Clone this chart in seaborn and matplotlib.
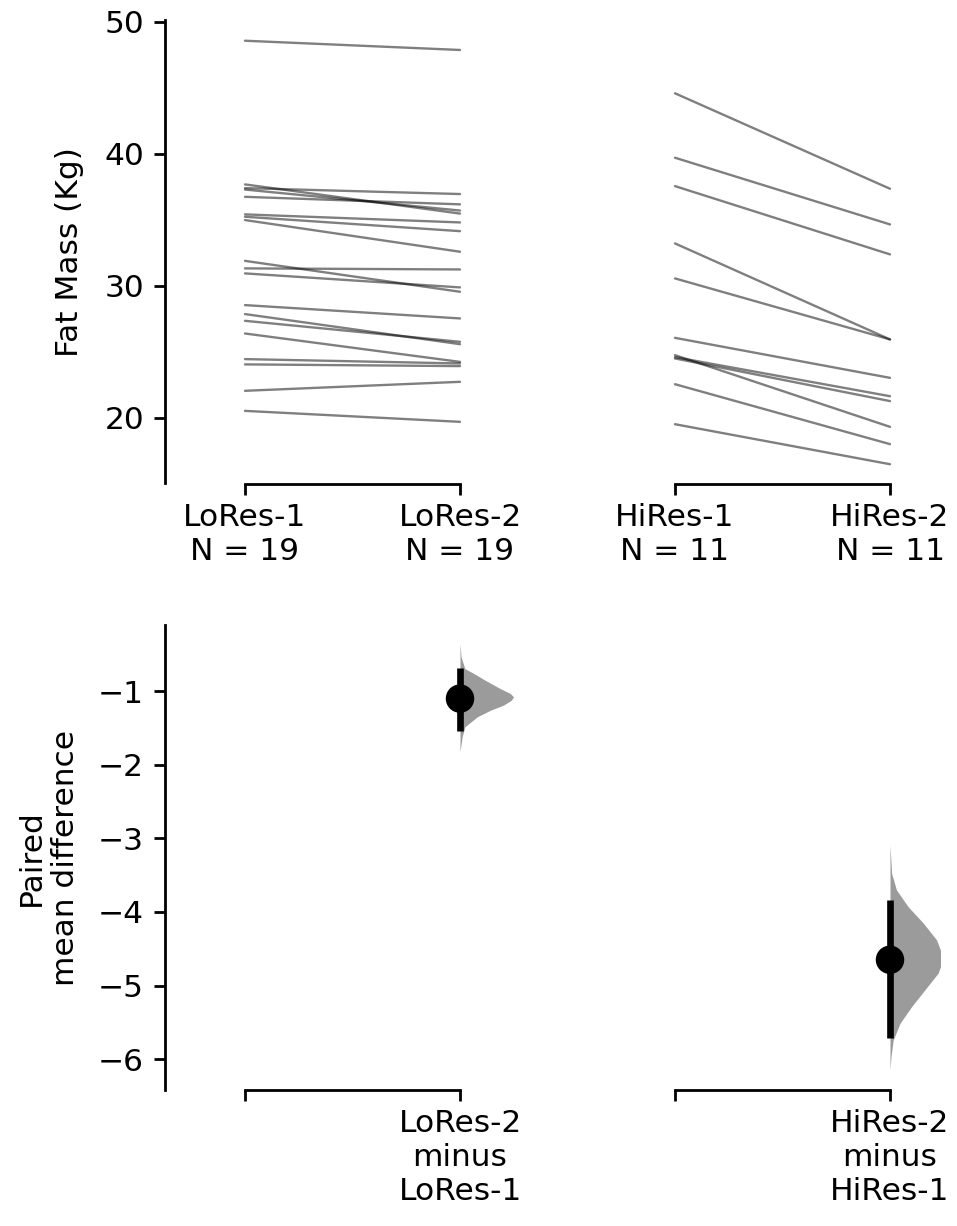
import numpy as np
import pandas as pd
import matplotlib
matplotlib.use("Agg")
import matplotlib.pyplot as plt
import seaborn as sns

# ---------------- data ----------------
lores_1 = [48.56, 37.68, 37.40, 37.29, 36.74, 35.41, 35.23, 34.98, 31.89, 31.32,
           30.94, 28.54, 27.86, 27.35, 26.39, 24.45, 24.05, 22.05, 20.53]
lores_2 = [47.86, 35.47, 36.95, 35.70, 36.17, 34.80, 34.14, 32.58, 29.55, 31.24,
           29.88, 27.53, 25.58, 25.76, 24.24, 24.12, 23.92, 22.73, 19.70]
hires_1 = [44.58, 39.70, 37.55, 33.21, 30.56, 26.06, 24.75, 24.60, 24.50, 22.55, 19.52]
hires_2 = [37.35, 34.65, 32.38, 25.94, 25.94, 23.03, 19.32, 21.64, 21.27, 18.01, 16.49]

group_labels = ["LoRes-1\nN = 19", "LoRes-2\nN = 19", "HiRes-1\nN = 11", "HiRes-2\nN = 11"]
diff_labels = ["", "LoRes-2\nminus\nLoRes-1", "", "HiRes-2\nminus\nHiRes-1"]

mean_diff = [-1.10, -4.65]
ci_low = [-1.54, -5.71]
ci_high = [-0.68, -3.84]

# bootstrap distribution outlines (value, relative density)
lo_dist_y = [-0.353, -0.534, -0.692, -0.760, -0.851, -0.963, -1.031, -1.077,
             -1.122, -1.190, -1.258, -1.349, -1.485, -1.620, -1.824]
lo_dist_d = [0.0, 0.02, 0.09, 0.26, 0.47, 0.75, 0.94, 1.0,
             0.96, 0.81, 0.57, 0.32, 0.09, 0.04, 0.0]
hi_dist_y = [-3.09, -3.475, -3.70, -3.93, -4.15, -4.38, -4.63, -4.83,
             -5.06, -5.29, -5.51, -5.74, -5.96, -6.15]
hi_dist_d = [0.0, 0.03, 0.12, 0.34, 0.62, 0.87, 1.0, 0.90,
             0.65, 0.40, 0.19, 0.06, 0.02, 0.0]

# ---------------- styling ----------------
sns.set_theme(style="ticks")
plt.rcParams["font.family"] = ["DejaVu Sans"]
plt.rcParams["text.color"] = "black"
plt.rcParams["axes.labelcolor"] = "black"
plt.rcParams["xtick.color"] = "black"
plt.rcParams["ytick.color"] = "black"
plt.rcParams["xtick.labelcolor"] = "black"
plt.rcParams["ytick.labelcolor"] = "black"
FS = 22.5
W, H = 957, 1226

fig = plt.figure(figsize=(W / 100, H / 100), dpi=100)
ax1 = fig.add_axes([165 / W, 1 - 483.5 / H, (940 - 165) / W, (483.5 - 20) / H])
ax2 = fig.add_axes([165 / W, 1 - 1090 / H, (940 - 165) / W, (1090 - 625) / H])

XLIM = (-80 / 215, (940 - 245) / 215)

# ---------------- top: paired slopegraph ----------------
rows = []
for i, (a, b) in enumerate(zip(lores_1, lores_2)):
    rows.append(dict(pair=f"L{i}", pos=0, value=a))
    rows.append(dict(pair=f"L{i}", pos=1, value=b))
for i, (a, b) in enumerate(zip(hires_1, hires_2)):
    rows.append(dict(pair=f"H{i}", pos=2, value=a))
    rows.append(dict(pair=f"H{i}", pos=3, value=b))
df = pd.DataFrame(rows)

sns.lineplot(data=df, x="pos", y="value", units="pair", estimator=None,
             color="black", alpha=0.5, linewidth=1.7, ax=ax1, legend=False)

ax1.set_xlim(*XLIM)
ax1.set_ylim(15.03, 50.13)
ax1.set_xticks([0, 1, 2, 3])
ax1.set_xticklabels(group_labels)
ax1.set_yticks([20, 30, 40, 50])
ax1.set_xlabel("")
ax1.set_ylabel("Fat Mass (Kg)", fontsize=FS, color="black")
ax1.yaxis.set_label_coords(-0.1045, 0.5)

# ---------------- bottom: paired mean differences ----------------
half_w = 0.249
for xpos, ys, ds in [(1, lo_dist_y, lo_dist_d), (3, hi_dist_y, hi_dist_d)]:
    ax2.fill_betweenx(ys, xpos, xpos + half_w * np.array(ds),
                      color="#9b9b9b", linewidth=0)
ax2.vlines([1, 3], ci_low, ci_high, color="black", linewidth=4.8, zorder=4)
sns.scatterplot(x=[1, 3], y=mean_diff, s=420, color="black",
                edgecolor="none", ax=ax2, zorder=5, legend=False)

ax2.set_xlim(*XLIM)
ax2.set_ylim(-6.42, -0.10)
ax2.set_xticks([0, 1, 2, 3])
ax2.set_xticklabels(diff_labels)
ax2.set_yticks([-1, -2, -3, -4, -5, -6])
ax2.set_xlabel("")
ax2.set_ylabel("Paired\nmean difference", fontsize=FS, color="black")
ax2.yaxis.set_label_coords(-0.11, 0.5)

for ax in (ax1, ax2):
    for s in ("top", "right", "bottom"):
        ax.spines[s].set_visible(False)
    ax.spines["left"].set_linewidth(2.0)
    ax.spines["left"].set_color("black")
    ax.tick_params(axis="both", length=8, width=2.0, labelsize=FS,
                   direction="out", color="black", labelcolor="black")
    ax.tick_params(axis="x", pad=6)
    ax.tick_params(axis="y", pad=7)
    tr = ax.get_xaxis_transform()
    for x0, x1 in [(0, 1), (2, 3)]:
        ax.plot([x0, x1], [0, 0], transform=tr, color="black",
                linewidth=2.0, clip_on=False, solid_capstyle="projecting")

fig.savefig("out.png", dpi=100)
